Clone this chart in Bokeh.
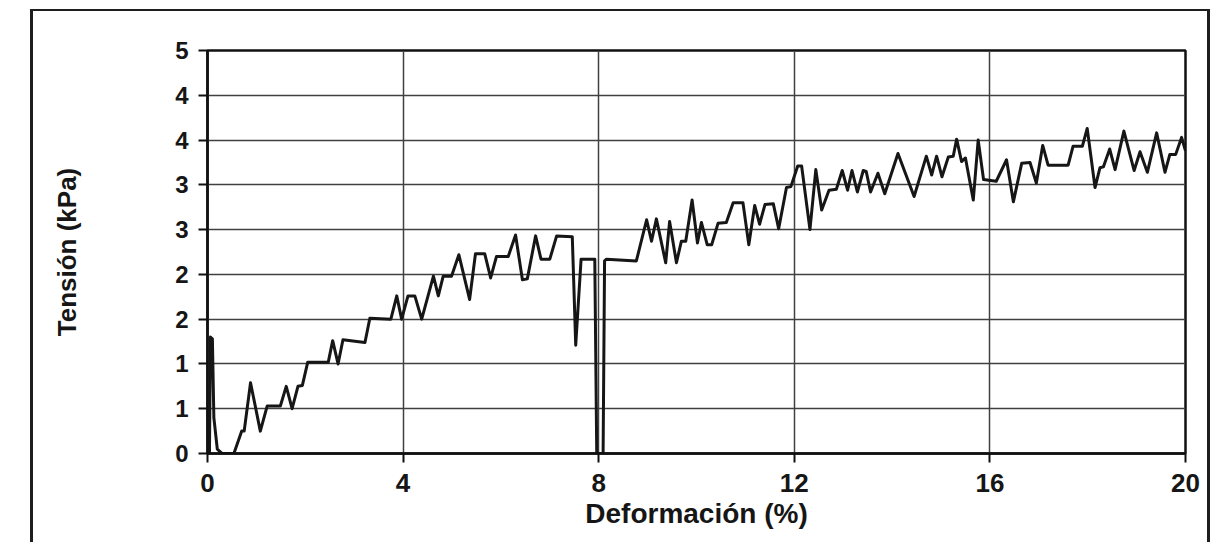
from bokeh.plotting import figure
from bokeh.models import FixedTicker, Range1d
from bokeh.embed import file_html
from bokeh.resources import INLINE

# Deformación (%) values
strain = [0.04, 0.06, 0.10, 0.13, 0.20, 0.30, 0.54, 0.70, 0.75, 0.88, 1.08, 1.22, 1.49, 1.61, 1.73,
          1.85, 1.94, 2.05, 2.47, 2.56, 2.67, 2.77, 3.22, 3.32, 3.75, 3.87, 3.97, 4.10, 4.24, 4.38,
          4.62, 4.72, 4.82, 4.99, 5.14, 5.36, 5.48, 5.67, 5.79, 5.91, 6.15, 6.30, 6.44, 6.54, 6.71,
          6.82, 7.00, 7.14, 7.46, 7.53, 7.64, 7.92, 7.96, 8.09, 8.12, 8.16, 8.77, 8.98, 9.08, 9.18,
          9.37, 9.45, 9.59, 9.69, 9.78, 9.91, 10.02, 10.10, 10.22, 10.31, 10.44, 10.61, 10.75, 10.95,
          11.07, 11.19, 11.29, 11.40, 11.57, 11.68, 11.84, 11.93, 12.07, 12.15, 12.32, 12.44, 12.56,
          12.71, 12.86, 12.98, 13.09, 13.18, 13.29, 13.41, 13.47, 13.56, 13.71, 13.85, 14.12, 14.45,
          14.70, 14.81, 14.91, 15.02, 15.15, 15.25, 15.32, 15.42, 15.50, 15.66, 15.76, 15.87, 16.13,
          16.34, 16.48, 16.65, 16.82, 16.95, 17.08, 17.19, 17.60, 17.70, 17.89, 17.99, 18.15, 18.25,
          18.32, 18.45, 18.56, 18.74, 18.95, 19.07, 19.22, 19.41, 19.58, 19.68, 19.80, 19.92, 20.00]

# Tensión (kPa) values
stress = [0.00, 1.30, 1.28, 0.40, 0.05, 0.00, 0.00, 0.25, 0.25, 0.79, 0.25, 0.53, 0.53, 0.75, 0.50,
          0.75, 0.76, 1.02, 1.02, 1.26, 1.00, 1.27, 1.24, 1.51, 1.50, 1.76, 1.50, 1.76, 1.76, 1.50,
          1.98, 1.76, 1.98, 1.98, 2.22, 1.72, 2.23, 2.23, 1.96, 2.20, 2.20, 2.44, 1.94, 1.95, 2.43,
          2.17, 2.17, 2.43, 2.42, 1.21, 2.17, 2.17, 0.00, 0.00, 2.15, 2.17, 2.15, 2.61, 2.37, 2.62,
          2.13, 2.59, 2.13, 2.37, 2.37, 2.83, 2.35, 2.58, 2.33, 2.33, 2.57, 2.58, 2.80, 2.80,
          2.33, 2.77, 2.56, 2.78, 2.79, 2.51, 2.97, 2.98, 3.21, 3.21, 2.50, 3.17, 2.72,
          2.94, 2.95, 3.16, 2.94, 3.16, 2.92, 3.16, 3.15, 2.92, 3.13, 2.90, 3.35, 2.87,
          3.32, 3.11, 3.32, 3.09, 3.31, 3.32, 3.51, 3.26, 3.30, 2.83, 3.50, 3.06, 3.04,
          3.28, 2.81, 3.24, 3.25, 3.02, 3.44, 3.22, 3.22, 3.43, 3.43, 3.63, 2.97, 3.19,
          3.20, 3.40, 3.17, 3.60, 3.16, 3.37, 3.14, 3.58, 3.14, 3.34, 3.34, 3.53, 3.38]

x_ticks = [0, 4, 8, 12, 16, 20]
y_ticks = [0.0, 0.5, 1.0, 1.5, 2.0, 2.5, 3.0, 3.5, 4.0, 4.5]
y_tick_labels = ["0", "1", "1", "2", "2", "3", "3", "4", "4", "5"]

FONT = "Liberation Sans"

p = figure(width=1180, height=533, output_backend="svg", toolbar_location=None,
           x_range=Range1d(0, 20), y_range=Range1d(0, 4.5),
           min_border_left=174, min_border_right=28, min_border_top=39, min_border_bottom=91)
p.margin = (9, 0, 0, 30)
p.styles = {"border-left": "3px solid #1e1e1e", "border-right": "3px solid #1e1e1e",
            "border-top": "2px solid #1e1e1e"}

p.background_fill_color = "white"
p.border_fill_color = "white"
p.outline_line_color = "#111111"
p.outline_line_width = 2.5

p.line(strain, stress, line_color="#161616", line_width=3, line_join="round")

p.xaxis.ticker = FixedTicker(ticks=x_ticks)
p.yaxis.ticker = FixedTicker(ticks=y_ticks)
p.yaxis.major_label_overrides = {t: l for t, l in zip(y_ticks, y_tick_labels)}

for ax in (p.xaxis[0], p.yaxis[0]):
    ax.axis_line_color = "#111111"
    ax.axis_line_width = 2.5
    ax.major_tick_line_color = "#111111"
    ax.major_tick_line_width = 2
    ax.major_tick_out = 9
    ax.major_tick_in = 0
    ax.minor_tick_line_color = None
    ax.major_label_text_font = FONT
    ax.major_label_text_font_style = "bold"
    ax.major_label_text_color = "#161616"
    ax.axis_label_text_font = FONT
    ax.axis_label_text_font_style = "bold"
    ax.axis_label_text_color = "#161616"

p.xaxis.major_label_text_font_size = "26px"
p.yaxis.major_label_text_font_size = "24px"
p.xaxis.axis_label = "Deformación (%)"
p.yaxis.axis_label = "Tensión (kPa)"
p.xaxis.axis_label_text_font_size = "28px"
p.yaxis.axis_label_text_font_size = "26px"
p.xaxis.major_label_standoff = 11
p.xaxis.axis_label_standoff = 3
p.yaxis.major_label_standoff = 10
p.yaxis.axis_label_standoff = 90

p.xgrid.grid_line_color = "#404040"
p.xgrid.grid_line_width = 1.5
p.ygrid.grid_line_color = "#404040"
p.ygrid.grid_line_width = 1.5

open("out.html", "w").write(file_html(p, INLINE))
